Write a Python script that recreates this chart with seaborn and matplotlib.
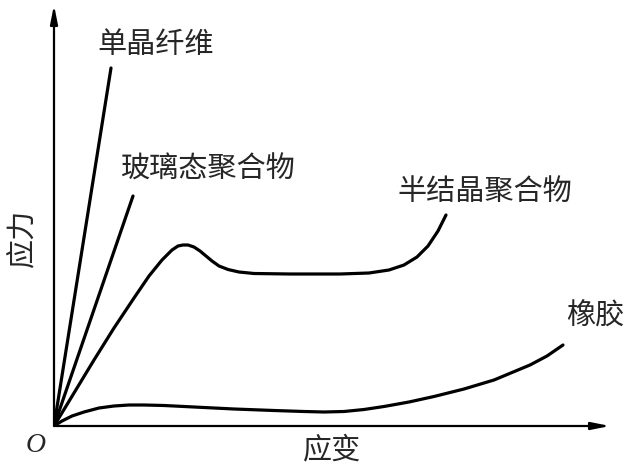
import seaborn as sns
import matplotlib.pyplot as plt
import pandas as pd

# 应力-应变示意曲线 (坐标为示意值)
fiber_x = [0, 57]
fiber_y = [0, 358]

glass_x = [0, 79]
glass_y = [0, 230]

semi_x = [0, 20, 40, 60, 80, 95, 108, 118, 124, 129, 134, 140, 146, 152, 158, 165, 174, 185, 200,
          236, 286, 315, 335, 350, 363, 374, 384, 392]
semi_y = [0, 33, 66, 98, 128, 150, 166, 176, 180, 181, 181, 179, 175, 170, 165, 160, 156.5, 154, 152.5,
          152, 152, 153, 156, 161, 169, 180, 195, 211]

rubber_x = [0, 8, 18, 30, 45, 60, 75, 90, 110, 140, 180, 220, 250, 270, 290, 310, 330, 355, 380,
            410, 440, 476, 493, 509]
rubber_y = [0, 5, 10, 14, 18, 20, 21, 21, 20.5, 19, 17, 15.5, 14.5, 14, 14.5, 16.5, 19.5, 24, 29.5,
            37, 46, 61, 70, 81]

names = ['单晶纤维', '玻璃态聚合物', '半结晶聚合物', '橡胶']

frames = []
for name, xs, ys in zip(names, [fiber_x, glass_x, semi_x, rubber_x],
                        [fiber_y, glass_y, semi_y, rubber_y]):
    frames.append(pd.DataFrame({'strain': xs, 'stress': ys, 'kind': name}))
df = pd.concat(frames, ignore_index=True)

sns.set_style("white")
plt.rcParams['font.family'] = ['Noto Sans CJK SC', 'DejaVu Sans']

fig = plt.figure(figsize=(6.27, 4.66), dpi=100)
ax = fig.add_axes([54 / 627, 40 / 466, 556 / 627, 421 / 466])

sns.lineplot(data=df, x='strain', y='stress', hue='kind', units='kind',
             estimator=None, sort=False, palette=['black'] * 4,
             linewidth=2.3, legend=False, ax=ax)
for line in ax.lines:
    line.set_solid_joinstyle('round')
    line.set_solid_capstyle('round')

ax.set_xlim(0, 556)
ax.set_ylim(0, 421)
for s in ax.spines.values():
    s.set_visible(False)
ax.set_xticks([])
ax.set_yticks([])
ax.set_xlabel('')
ax.set_ylabel('')

arrow = dict(arrowstyle='-|>,head_length=1.1,head_width=0.22', color='black',
             lw=1.6, shrinkA=0, shrinkB=0)
ax.annotate('', xy=(1, 0), xytext=(0, 0), xycoords='axes fraction', arrowprops=arrow)
ax.annotate('', xy=(0, 1), xytext=(0, 0), xycoords='axes fraction', arrowprops=arrow)

fs = 21
ax.text(43, 381, '单晶纤维', fontsize=fs, ha='left', va='center')
ax.text(67, 256, '玻璃态聚合物', fontsize=fs, ha='left', va='center')
ax.text(343, 234, '半结晶聚合物', fontsize=fs, ha='left', va='center')
ax.text(512, 109, '橡胶', fontsize=fs, ha='left', va='center')

fig.text(332 / 627, 1 - 450 / 466, '应变', fontsize=fs, ha='center', va='center')
fig.text(22 / 627, 1 - 238 / 466, '应力', fontsize=fs, ha='center', va='center', rotation=90)
fig.text(36 / 627, 1 - 445 / 466, 'O', fontsize=20, ha='center', va='center',
         family='Liberation Serif', style='italic')

fig.savefig('out.png', dpi=100, facecolor='white')
